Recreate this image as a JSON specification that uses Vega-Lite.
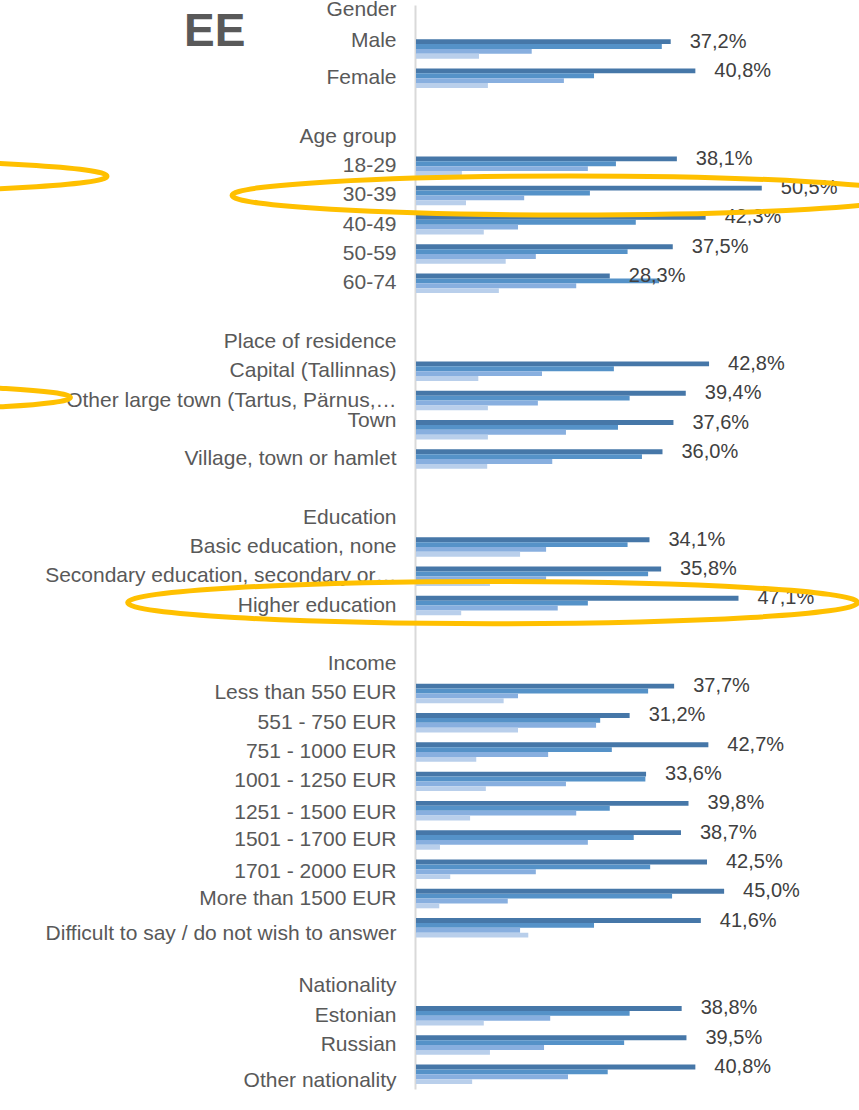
{
  "$schema": "https://vega.github.io/schema/vega-lite/v6.json",
  "width": 443,
  "height": 1084,
  "autosize": {"type": "none"},
  "padding": {"left": 416, "top": 5, "right": 0, "bottom": 21},
  "background": "white",
  "config": {
    "view": {"stroke": null},
    "locale": {"number": {"decimal": ",", "thousands": " ", "grouping": [3], "currency": ["", " €"]}}
  },
  "title": {
    "text": "EE",
    "anchor": "start",
    "frame": "group",
    "orient": "top",
    "offset": 0,
    "dx": -232,
    "dy": 94,
    "baseline": "alphabetic",
    "font": "Liberation Sans",
    "fontSize": 46,
    "fontWeight": "bold",
    "color": "#595959"
  },
  "datasets": {
    "bars": [
      {"c": "Male", "s": "s1", "v": 0.372}, {"c": "Male", "s": "s2", "v": 0.359}, {"c": "Male", "s": "s3", "v": 0.169}, {"c": "Male", "s": "s4", "v": 0.092},
      {"c": "Female", "s": "s1", "v": 0.408}, {"c": "Female", "s": "s2", "v": 0.260}, {"c": "Female", "s": "s3", "v": 0.216}, {"c": "Female", "s": "s4", "v": 0.105},
      {"c": "18-29", "s": "s1", "v": 0.381}, {"c": "18-29", "s": "s2", "v": 0.292}, {"c": "18-29", "s": "s3", "v": 0.251}, {"c": "18-29", "s": "s4", "v": 0.067},
      {"c": "30-39", "s": "s1", "v": 0.505}, {"c": "30-39", "s": "s2", "v": 0.254}, {"c": "30-39", "s": "s3", "v": 0.158}, {"c": "30-39", "s": "s4", "v": 0.073},
      {"c": "40-49", "s": "s1", "v": 0.423}, {"c": "40-49", "s": "s2", "v": 0.321}, {"c": "40-49", "s": "s3", "v": 0.149}, {"c": "40-49", "s": "s4", "v": 0.099},
      {"c": "50-59", "s": "s1", "v": 0.375}, {"c": "50-59", "s": "s2", "v": 0.309}, {"c": "50-59", "s": "s3", "v": 0.175}, {"c": "50-59", "s": "s4", "v": 0.131},
      {"c": "60-74", "s": "s1", "v": 0.283}, {"c": "60-74", "s": "s2", "v": 0.355}, {"c": "60-74", "s": "s3", "v": 0.234}, {"c": "60-74", "s": "s4", "v": 0.121},
      {"c": "Capital (Tallinnas)", "s": "s1", "v": 0.428}, {"c": "Capital (Tallinnas)", "s": "s2", "v": 0.289}, {"c": "Capital (Tallinnas)", "s": "s3", "v": 0.184}, {"c": "Capital (Tallinnas)", "s": "s4", "v": 0.091},
      {"c": "Other large town (Tartus, Pärnus,…", "s": "s1", "v": 0.394}, {"c": "Other large town (Tartus, Pärnus,…", "s": "s2", "v": 0.312}, {"c": "Other large town (Tartus, Pärnus,…", "s": "s3", "v": 0.178}, {"c": "Other large town (Tartus, Pärnus,…", "s": "s4", "v": 0.105},
      {"c": "Town", "s": "s1", "v": 0.376}, {"c": "Town", "s": "s2", "v": 0.295}, {"c": "Town", "s": "s3", "v": 0.219}, {"c": "Town", "s": "s4", "v": 0.105},
      {"c": "Village, town or hamlet", "s": "s1", "v": 0.360}, {"c": "Village, town or hamlet", "s": "s2", "v": 0.330}, {"c": "Village, town or hamlet", "s": "s3", "v": 0.199}, {"c": "Village, town or hamlet", "s": "s4", "v": 0.104},
      {"c": "Basic education, none", "s": "s1", "v": 0.341}, {"c": "Basic education, none", "s": "s2", "v": 0.309}, {"c": "Basic education, none", "s": "s3", "v": 0.190}, {"c": "Basic education, none", "s": "s4", "v": 0.152},
      {"c": "Secondary education, secondary or…", "s": "s1", "v": 0.358}, {"c": "Secondary education, secondary or…", "s": "s2", "v": 0.339}, {"c": "Secondary education, secondary or…", "s": "s3", "v": 0.190}, {"c": "Secondary education, secondary or…", "s": "s4", "v": 0.108},
      {"c": "Higher education", "s": "s1", "v": 0.471}, {"c": "Higher education", "s": "s2", "v": 0.251}, {"c": "Higher education", "s": "s3", "v": 0.207}, {"c": "Higher education", "s": "s4", "v": 0.066},
      {"c": "Less than 550 EUR", "s": "s1", "v": 0.377}, {"c": "Less than 550 EUR", "s": "s2", "v": 0.339}, {"c": "Less than 550 EUR", "s": "s3", "v": 0.149}, {"c": "Less than 550 EUR", "s": "s4", "v": 0.128},
      {"c": "551 - 750 EUR", "s": "s1", "v": 0.312}, {"c": "551 - 750 EUR", "s": "s2", "v": 0.269}, {"c": "551 - 750 EUR", "s": "s3", "v": 0.263}, {"c": "551 - 750 EUR", "s": "s4", "v": 0.149},
      {"c": "751 - 1000 EUR", "s": "s1", "v": 0.427}, {"c": "751 - 1000 EUR", "s": "s2", "v": 0.286}, {"c": "751 - 1000 EUR", "s": "s3", "v": 0.193}, {"c": "751 - 1000 EUR", "s": "s4", "v": 0.088},
      {"c": "1001 - 1250 EUR", "s": "s1", "v": 0.336}, {"c": "1001 - 1250 EUR", "s": "s2", "v": 0.335}, {"c": "1001 - 1250 EUR", "s": "s3", "v": 0.219}, {"c": "1001 - 1250 EUR", "s": "s4", "v": 0.102},
      {"c": "1251 - 1500 EUR", "s": "s1", "v": 0.398}, {"c": "1251 - 1500 EUR", "s": "s2", "v": 0.283}, {"c": "1251 - 1500 EUR", "s": "s3", "v": 0.234}, {"c": "1251 - 1500 EUR", "s": "s4", "v": 0.079},
      {"c": "1501 - 1700 EUR", "s": "s1", "v": 0.387}, {"c": "1501 - 1700 EUR", "s": "s2", "v": 0.318}, {"c": "1501 - 1700 EUR", "s": "s3", "v": 0.251}, {"c": "1501 - 1700 EUR", "s": "s4", "v": 0.035},
      {"c": "1701 - 2000 EUR", "s": "s1", "v": 0.425}, {"c": "1701 - 2000 EUR", "s": "s2", "v": 0.342}, {"c": "1701 - 2000 EUR", "s": "s3", "v": 0.175}, {"c": "1701 - 2000 EUR", "s": "s4", "v": 0.050},
      {"c": "More than 1500 EUR", "s": "s1", "v": 0.450}, {"c": "More than 1500 EUR", "s": "s2", "v": 0.374}, {"c": "More than 1500 EUR", "s": "s3", "v": 0.134}, {"c": "More than 1500 EUR", "s": "s4", "v": 0.034},
      {"c": "Difficult to say / do not wish to answer", "s": "s1", "v": 0.416}, {"c": "Difficult to say / do not wish to answer", "s": "s2", "v": 0.260}, {"c": "Difficult to say / do not wish to answer", "s": "s3", "v": 0.152}, {"c": "Difficult to say / do not wish to answer", "s": "s4", "v": 0.164},
      {"c": "Estonian", "s": "s1", "v": 0.388}, {"c": "Estonian", "s": "s2", "v": 0.312}, {"c": "Estonian", "s": "s3", "v": 0.196}, {"c": "Estonian", "s": "s4", "v": 0.099},
      {"c": "Russian", "s": "s1", "v": 0.395}, {"c": "Russian", "s": "s2", "v": 0.304}, {"c": "Russian", "s": "s3", "v": 0.187}, {"c": "Russian", "s": "s4", "v": 0.108},
      {"c": "Other nationality", "s": "s1", "v": 0.408}, {"c": "Other nationality", "s": "s2", "v": 0.280}, {"c": "Other nationality", "s": "s3", "v": 0.222}, {"c": "Other nationality", "s": "s4", "v": 0.082}
    ],
    "highlights": [
      {"id": "age", "c": "30-39", "v": 0.225},
      {"id": "edu", "c": "Higher education", "v": 0.112},
      {"id": "left1", "c": "18-29", "v": -0.85},
      {"id": "left2", "c": "Other large town (Tartus, Pärnus,…", "v": -0.826}
    ]
  },
  "encoding": {
    "y": {
      "field": "c",
      "type": "nominal",
      "sort": null,
      "scale": {
        "domain": ["Gender", "Male", "Female", "_b1", "Age group", "18-29", "30-39", "40-49", "50-59", "60-74", "_b2", "Place of residence", "Capital (Tallinnas)", "Other large town (Tartus, Pärnus,…", "Town", "Village, town or hamlet", "_b3", "Education", "Basic education, none", "Secondary education, secondary or…", "Higher education", "_b4", "Income", "Less than 550 EUR", "551 - 750 EUR", "751 - 1000 EUR", "1001 - 1250 EUR", "1251 - 1500 EUR", "1501 - 1700 EUR", "1701 - 2000 EUR", "More than 1500 EUR", "Difficult to say / do not wish to answer", "_b5", "Nationality", "Estonian", "Russian", "Other nationality"],
        "paddingInner": 0.335,
        "paddingOuter": 0.1675
      },
      "axis": {
        "title": null,
        "domainColor": "#D9D9D9",
        "domainWidth": 2,
        "offset": 1,
        "ticks": false,
        "labelFont": "Liberation Sans",
        "labelFontSize": 21,
        "labelColor": "#595959",
        "labelPadding": 19,
        "labelLimit": 500,
        "labelOffset": {"expr": "datum.value === 'Gender' ? -10 : datum.value === 'Male' ? -8 : datum.value === 'Town' ? -9 : datum.value === 'Difficult to say / do not wish to answer' ? 6 : datum.value === 'Other nationality' ? 7 : datum.value === '1701 - 2000 EUR' ? 3 : datum.value === '1251 - 1500 EUR' ? 2 : 0"},
        "labelExpr": "indexof(datum.label, '_b') === 0 ? '' : datum.label"
      }
    },
    "x": {
      "field": "v",
      "type": "quantitative",
      "scale": {"domain": [0, 0.647], "nice": false, "zero": true},
      "axis": null
    }
  },
  "layer": [
    {
      "data": {"name": "bars"},
      "mark": {"type": "bar"},
      "encoding": {
        "yOffset": {"field": "s", "type": "nominal", "scale": {"domain": ["s1", "s2", "s3", "s4"], "paddingInner": 0, "paddingOuter": 0}},
        "color": {"field": "s", "type": "nominal", "scale": {"domain": ["s1", "s2", "s3", "s4"], "range": ["#4677A8", "#5592C8", "#88AFDF", "#B9CFEB"]}, "legend": null}
      }
    },
    {
      "data": {"name": "bars"},
      "transform": [{"filter": "datum.s === 's1'"}],
      "mark": {"type": "text", "align": "left", "baseline": "middle", "dx": 19, "yOffset": -7.3, "font": "Liberation Sans", "fontSize": 20, "color": "#404040"},
      "encoding": {
        "text": {"field": "v", "type": "quantitative", "format": ".1%"}
      }
    },
    {
      "data": {"name": "highlights"},
      "transform": [{"filter": "datum.id === 'age'"}],
      "mark": {"type": "point", "filled": false, "color": "#FFC000", "opacity": 1, "strokeWidth": 5, "size": 456976, "shape": "M-1,0C-1,-0.0319,-0.5523,-0.0577,0,-0.0577C0.5523,-0.0577,1,-0.0319,1,0C1,0.0319,0.5523,0.0577,0,0.0577C-0.5523,0.0577,-1,0.0319,-1,0Z"},
      "encoding": {}
    },
    {
      "data": {"name": "highlights"},
      "transform": [{"filter": "datum.id === 'edu'"}],
      "mark": {"type": "point", "filled": false, "color": "#FFC000", "opacity": 1, "strokeWidth": 5, "size": 532900, "yOffset": -3, "shape": "M-1,0C-1,-0.0319,-0.5523,-0.0577,0,-0.0577C0.5523,-0.0577,1,-0.0319,1,0C1,0.0319,0.5523,0.0577,0,0.0577C-0.5523,0.0577,-1,0.0319,-1,0Z"},
      "encoding": {}
    },
    {
      "data": {"name": "highlights"},
      "transform": [{"filter": "datum.id === 'left1'"}],
      "mark": {"type": "point", "filled": false, "color": "#FFC000", "opacity": 1, "strokeWidth": 5, "size": 298116, "yOffset": 10, "shape": "M-1,0C-1,-0.0319,-0.5523,-0.0577,0,-0.0577C0.5523,-0.0577,1,-0.0319,1,0C1,0.0319,0.5523,0.0577,0,0.0577C-0.5523,0.0577,-1,0.0319,-1,0Z"},
      "encoding": {}
    },
    {
      "data": {"name": "highlights"},
      "transform": [{"filter": "datum.id === 'left2'"}],
      "mark": {"type": "point", "filled": false, "color": "#FFC000", "opacity": 1, "strokeWidth": 5, "size": 193600, "yOffset": -3, "shape": "M-1,0C-1,-0.0319,-0.5523,-0.0577,0,-0.0577C0.5523,-0.0577,1,-0.0319,1,0C1,0.0319,0.5523,0.0577,0,0.0577C-0.5523,0.0577,-1,0.0319,-1,0Z"},
      "encoding": {}
    }
  ]
}
